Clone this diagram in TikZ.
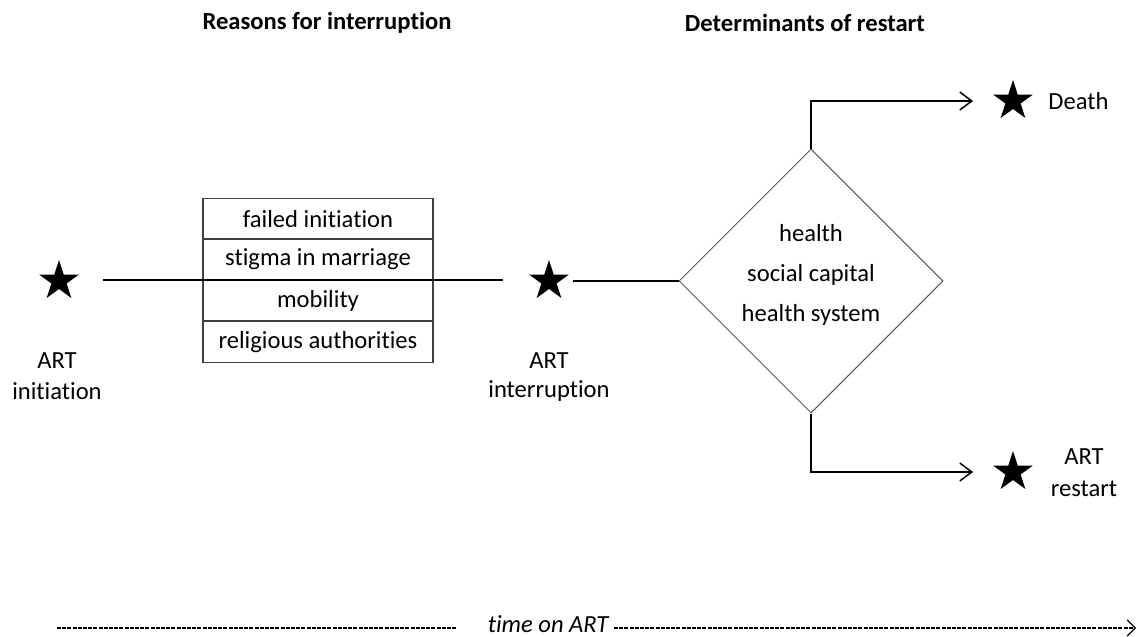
\documentclass[tikz,border=0pt]{standalone}
\usepackage{fontspec}
\setmainfont{Carlito}[Ligatures=NoCommon]
\usetikzlibrary{shapes.geometric,arrows.meta}
\tikzset{
  base/.style={font=\fontsize{12.3}{15}\selectfont},
  starnode/.style={star, star points=5, star point ratio=2.618, fill=black, draw=none, minimum size=21pt, inner sep=0pt},
  rowbox/.style={base, draw=black!75, line width=0.6pt, minimum width=115pt, minimum height=20.5pt, inner sep=0pt},
  conn/.style={line width=0.75pt, black},
  arr/.style={conn, -{Straight Barb[length=6pt,width=9pt,line width=0.75pt]}},
  lbl/.style={base, align=center, inner sep=0pt},
  title/.style={font=\fontsize{12.3}{15}\selectfont\bfseries, inner sep=0pt},
  timeline/.style={line width=0.6pt, dash pattern=on 2pt off 0.6pt}
}
\begin{document}
\begin{tikzpicture}[x=0.5pt,y=-0.5pt]
\useasboundingbox (0,0) rectangle (1142,637);
% titles
\node[title] (t1) at (327,23) {Reasons for interruption};
\node[title] (t2) at (805,23) {Determinants of restart};
% stars
\node[starnode] (s1) at (59,281) {};
\node[starnode] (s2) at (549,281) {};
\node[starnode] (s3) at (1013,101) {};
\node[starnode] (s4) at (1013,472) {};
% labels
\node[lbl] (l1a) at (57,361) {ART};
\node[lbl] (l1b) at (57,391) {initiation};
\node[lbl] (l2a) at (549,361) {ART};
\node[lbl] (l2b) at (549,391) {interruption};
\node[lbl, anchor=west] (death) at (1048,101) {Death};
\node[lbl] (r1) at (1084,457) {ART};
\node[lbl] (r2) at (1084,489) {restart};
% reasons box
\node[rowbox] (b1) at (318,219) {failed initiation};
\node[rowbox] (b2) at (318,259.5) {stigma in marriage};
\node[rowbox] (b3) at (318,300.5) {mobility};
\node[rowbox] (b4) at (318,342) {religious authorities};
% connector through box
\coordinate (a1) at (103,280);
\coordinate (a2) at (503,280);
\draw[conn] (a1) -- (a2);
% diamond
\node[diamond, draw=black!65, line width=0.5pt, minimum width=132pt, minimum height=132pt, inner sep=0pt] (d) at (811,281) {};
\node[lbl, align=center] (dt) at (811,275) {health\\[5.2pt]social capital\\[5.2pt]health system};
\draw[conn, shorten <=6pt] (s2) -- (d.west);
\coordinate (da) at (973,101);
\coordinate (ra) at (973,472);
\draw[arr] (d.north) |- (da);
\draw[arr] (d.south) |- (ra);
% time axis
\node[font=\fontsize{12.3}{15}\selectfont\itshape, inner sep=0pt] (time) at (548,624) {time on ART};
\coordinate (x0) at (57,628);
\coordinate (x1) at (457,628);
\coordinate (x2) at (614,628);
\coordinate (x3) at (1136,628);
\draw[timeline] (x0) -- (x1);
\draw[timeline, -{Straight Barb[length=4pt,width=8pt,line width=0.6pt]}] (x2) -- (x3);
\end{tikzpicture}
\end{document}
